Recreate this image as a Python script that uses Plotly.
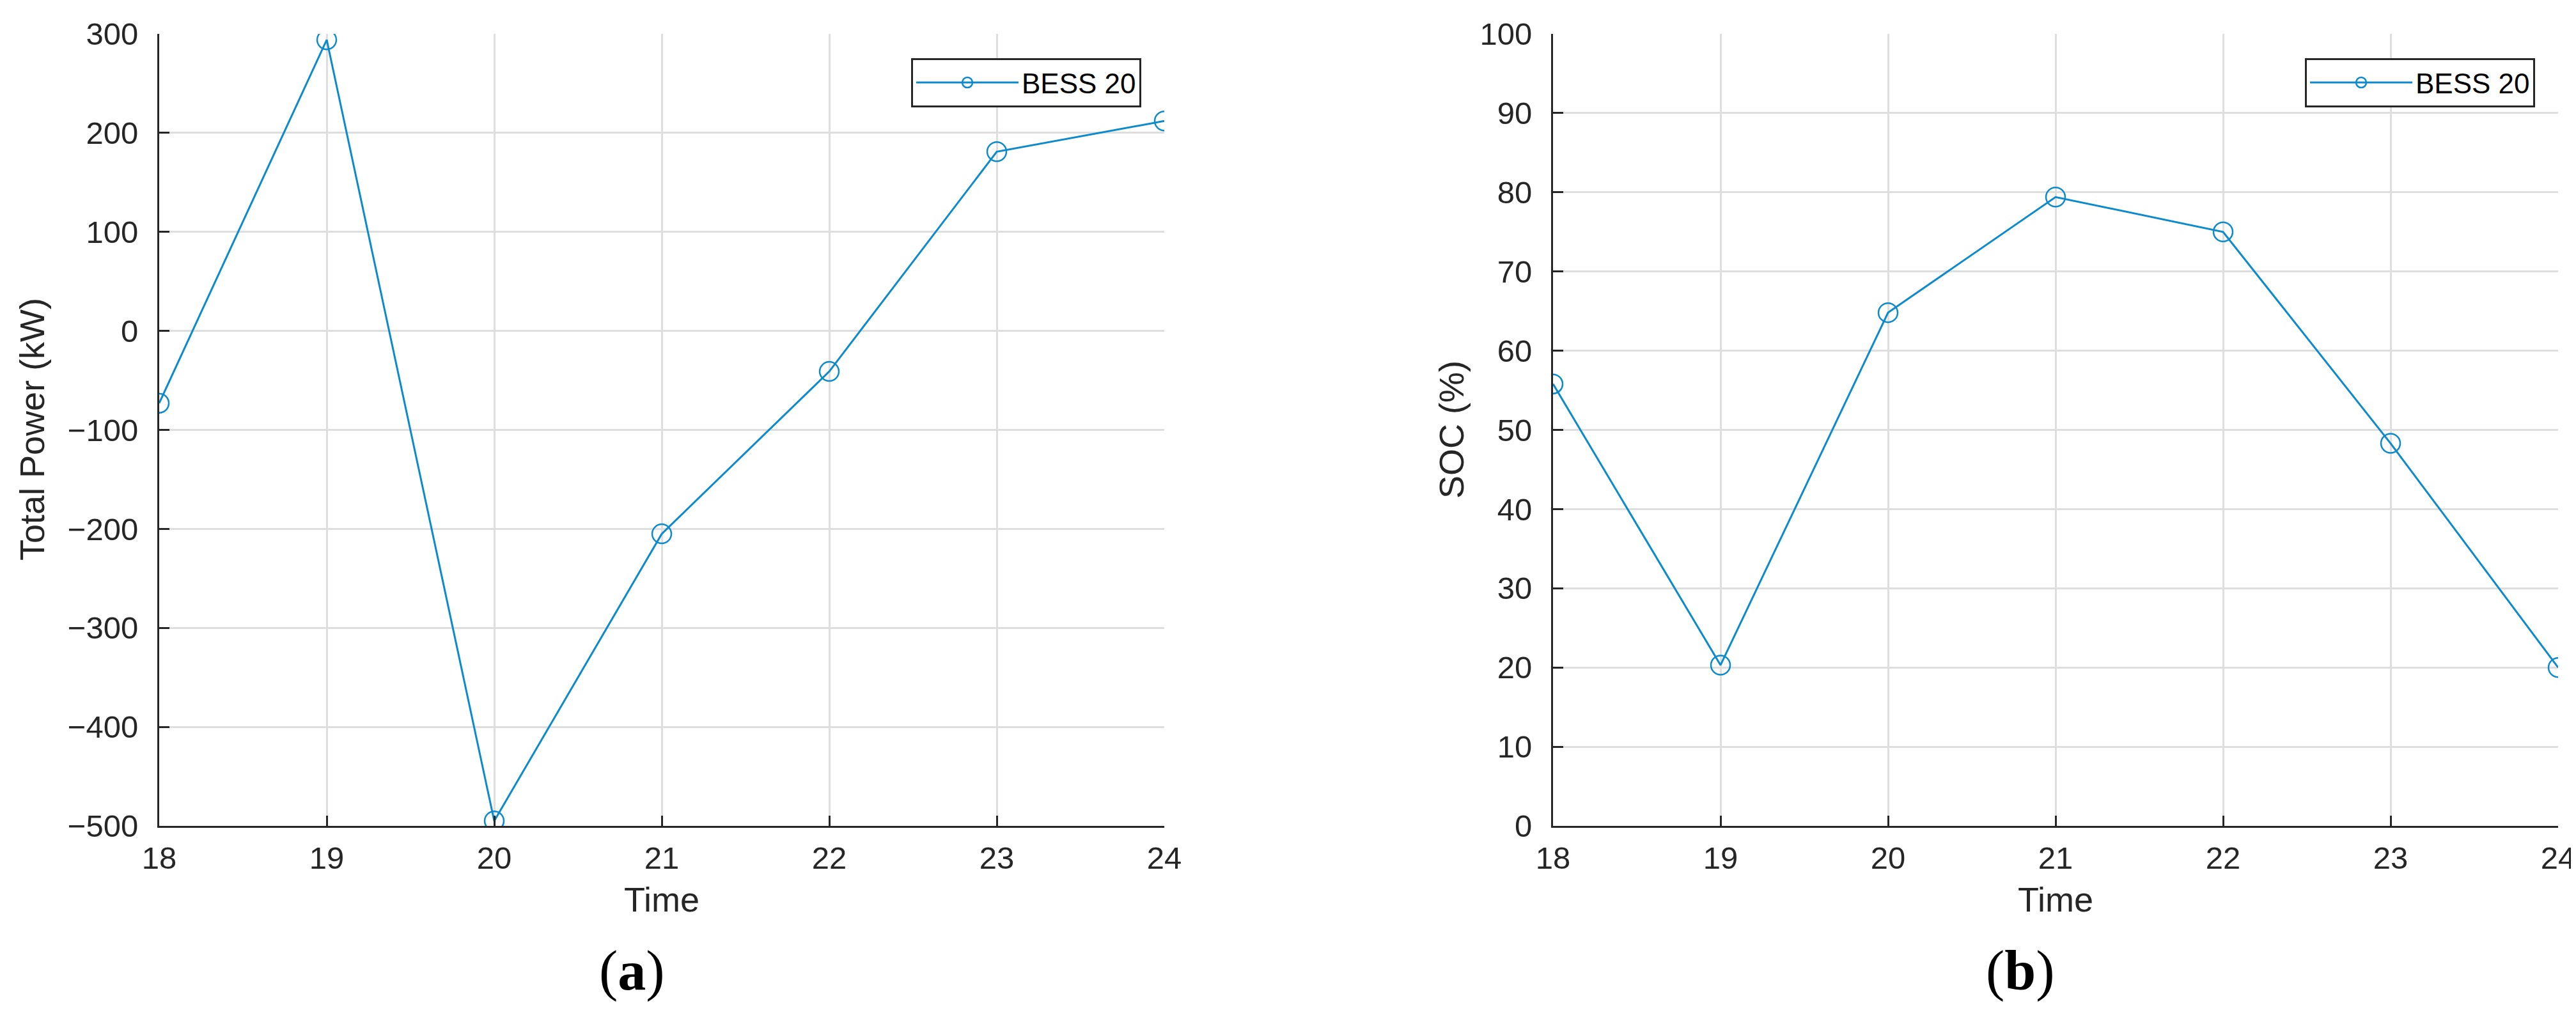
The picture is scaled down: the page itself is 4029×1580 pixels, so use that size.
import plotly.graph_objects as go

# ---- data ----
time = [18, 19, 20, 21, 22, 23, 24]
total_power_kw = [-73, 294, -495, -205, -41, 181, 212]
soc_pct = [55.8, 20.3, 64.8, 79.4, 75.0, 48.3, 20.0]
series_name = "BESS 20"
x_ticks = [18, 19, 20, 21, 22, 23, 24]
power_ticks = [-500, -400, -300, -200, -100, 0, 100, 200, 300]
soc_ticks = [0, 10, 20, 30, 40, 50, 60, 70, 80, 90, 100]

W, H = 4029, 1580
LINE_COLOR = "#0B8ACD"
AX_COLOR = "#262626"
GRID_COLOR = "#DEDEDE"
FONT = "Liberation Sans"


def px(x):
    return x / W


def py(y):
    return 1 - y / H


fig = go.Figure()

marker = dict(symbol="circle-open", size=30, color=LINE_COLOR,
              line=dict(width=2.5, color=LINE_COLOR))
fig.add_trace(go.Scatter(
    x=time, y=total_power_kw, name=series_name, mode="lines+markers",
    line=dict(color=LINE_COLOR, width=3), marker=marker,
    xaxis="x", yaxis="y", legend="legend",
))
fig.add_trace(go.Scatter(
    x=time, y=soc_pct, name=series_name, mode="lines+markers",
    line=dict(color=LINE_COLOR, width=3), marker=marker,
    xaxis="x2", yaxis="y2", legend="legend2",
))

ydom = [py(1284), py(45)]
common_ax = dict(
    showgrid=True, gridcolor=GRID_COLOR, gridwidth=2.5,
    showline=True, linecolor=AX_COLOR, linewidth=3, mirror=False,
    ticks="inside", ticklen=16, tickwidth=3, tickcolor=AX_COLOR,
    zeroline=False, automargin=False,
    tickfont=dict(family=FONT, size=49, color=AX_COLOR),
)

legend_common = dict(xanchor="right", yanchor="top",
                     bgcolor="white", bordercolor=AX_COLOR, borderwidth=3,
                     font=dict(family=FONT, size=44, color="black"), itemwidth=160)

fig.update_layout(
    width=W, height=H,
    margin=dict(l=0, r=0, t=0, b=0, pad=0, autoexpand=False),
    paper_bgcolor="white", plot_bgcolor="white",
    showlegend=True,
    xaxis=dict(domain=[px(241), px(1813)], range=[18, 24], tickvals=x_ticks,
               anchor="y", ticklabelstandoff=5, **common_ax),
    yaxis=dict(domain=ydom, range=[-500, 300], tickvals=power_ticks,
               anchor="x", ticklabelstandoff=20, **common_ax),
    xaxis2=dict(domain=[px(2421), px(3993)], range=[18, 24], tickvals=x_ticks,
                anchor="y2", ticklabelstandoff=5, **common_ax),
    yaxis2=dict(domain=ydom, range=[0, 100], tickvals=soc_ticks,
                anchor="x2", ticklabelstandoff=20, **common_ax),
    legend=dict(x=px(1777), y=py(83), **legend_common),
    legend2=dict(x=px(3957), y=py(83), **legend_common),
)

ann_font = dict(family=FONT, size=54, color=AX_COLOR)
annotations = [
    dict(text="Time", x=px(1027), y=py(1399), font=ann_font),
    dict(text="Time", x=px(3207), y=py(1399), font=ann_font),
    dict(text="Total Power (kW)", x=px(42), y=py(664), textangle=-90, font=ann_font),
    dict(text="SOC (%)", x=px(2262), y=py(664), textangle=-90, font=ann_font),
    dict(text="(<b>a</b>)", x=px(980), y=py(1510),
         font=dict(family="Liberation Serif", size=88, color="black")),
    dict(text="(<b>b</b>)", x=px(3152), y=py(1510),
         font=dict(family="Liberation Serif", size=88, color="black")),
]
for a in annotations:
    a.update(xref="paper", yref="paper", showarrow=False, xanchor="center", yanchor="middle")
fig.update_layout(annotations=annotations)

fig.write_html("out.html")
